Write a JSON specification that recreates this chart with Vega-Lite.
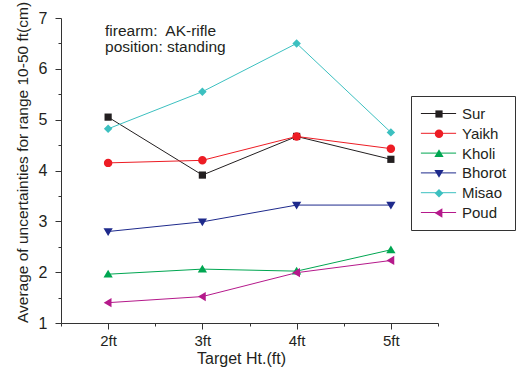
{
  "$schema": "https://vega.github.io/schema/vega-lite/v6.json",
  "width": 377,
  "height": 305,
  "autosize": {"type": "none"},
  "padding": {"left": 61, "top": 18, "right": 82, "bottom": 46},
  "layer": [
    {
      "data": {
        "values": [
          {"ht": 2, "series": "Sur", "v": 5.05},
          {"ht": 3, "series": "Sur", "v": 3.91},
          {"ht": 4, "series": "Sur", "v": 4.67},
          {"ht": 5, "series": "Sur", "v": 4.22},
          {"ht": 2, "series": "Yaikh", "v": 4.15},
          {"ht": 3, "series": "Yaikh", "v": 4.2},
          {"ht": 4, "series": "Yaikh", "v": 4.67},
          {"ht": 5, "series": "Yaikh", "v": 4.43},
          {"ht": 2, "series": "Kholi", "v": 1.96},
          {"ht": 3, "series": "Kholi", "v": 2.06},
          {"ht": 4, "series": "Kholi", "v": 2.02},
          {"ht": 5, "series": "Kholi", "v": 2.44},
          {"ht": 2, "series": "Bhorot", "v": 2.8},
          {"ht": 3, "series": "Bhorot", "v": 2.99},
          {"ht": 4, "series": "Bhorot", "v": 3.32},
          {"ht": 5, "series": "Bhorot", "v": 3.32},
          {"ht": 2, "series": "Misao", "v": 4.82},
          {"ht": 3, "series": "Misao", "v": 5.55},
          {"ht": 4, "series": "Misao", "v": 6.5},
          {"ht": 5, "series": "Misao", "v": 4.75},
          {"ht": 2, "series": "Poud", "v": 1.4},
          {"ht": 3, "series": "Poud", "v": 1.52},
          {"ht": 4, "series": "Poud", "v": 1.99},
          {"ht": 5, "series": "Poud", "v": 2.23}
        ]
      },
      "encoding": {
        "x": {
          "field": "ht",
          "type": "quantitative",
          "scale": {"domain": [1.5, 5.5], "nice": false, "zero": false},
          "axis": {
            "title": "Target Ht.(ft)",
            "titleFontSize": 16,
            "titleFontWeight": "normal",
            "titleColor": "#231f20",
            "titlePadding": 2,
            "titleX": 180,
            "values": [1.5, 2, 2.5, 3, 3.5, 4, 4.5, 5, 5.5],
            "labelExpr": "datum.value % 1 === 0 ? datum.value + 'ft' : ''",
            "labelFontSize": 15,
            "labelColor": "#231f20",
            "labelPadding": 4,
            "labelFlush": false,
            "labelOverlap": false,
            "tickSize": {"condition": {"test": "datum.value % 1 === 0", "value": 6}, "value": 3},
            "tickColor": "#333333",
            "domainColor": "#333333",
            "grid": false
          }
        },
        "y": {
          "field": "v",
          "type": "quantitative",
          "scale": {"domain": [1, 7], "nice": false, "zero": false},
          "axis": {
            "title": "Average of uncertainties for range 10-50 ft(cm)",
            "titleFontSize": 15.5,
            "titleFontWeight": "normal",
            "titleColor": "#231f20",
            "titlePadding": 8,
            "titleY": 144,
            "values": [1, 1.5, 2, 2.5, 3, 3.5, 4, 4.5, 5, 5.5, 6, 6.5, 7],
            "labelExpr": "datum.value % 1 === 0 ? datum.value : ''",
            "labelFontSize": 16,
            "labelColor": "#231f20",
            "labelPadding": 8,
            "labelFlush": false,
            "labelOverlap": false,
            "tickSize": {"condition": {"test": "datum.value % 1 === 0", "value": 6}, "value": 3},
            "tickColor": "#333333",
            "domainColor": "#333333",
            "grid": false
          }
        }
      },
      "layer": [
        {
          "mark": {"type": "line", "strokeWidth": 1},
          "encoding": {
            "stroke": {
              "field": "series",
              "type": "nominal",
              "sort": ["Sur", "Yaikh", "Kholi", "Bhorot", "Misao", "Poud"],
              "scale": {
                "range": ["#231f20", "#ed1c24", "#00a651", "#1e2a8c", "#3cc0c0", "#b5198b"]
              },
              "legend": {
                "title": null,
                "orient": "none",
                "legendX": 350,
                "legendY": 78,
                "padding": 9,
                "strokeColor": "#333333",
                "symbolType": "M-2.2,0L2.2,0",
                "symbolSize": 256,
                "symbolOffset": 10,
                "symbolStrokeWidth": 1,
                "labelOffset": 14,
                "labelFontSize": 15,
                "labelOpacity": 0,
                "rowPadding": 2.8
              }
            }
          }
        },
        {
          "mark": {"type": "point", "filled": true, "opacity": 1, "size": 256},
          "encoding": {
            "fill": {
              "field": "series",
              "type": "nominal",
              "scale": {
                "domain": ["Sur", "Yaikh", "Kholi", "Bhorot", "Misao", "Poud"],
                "range": ["#231f20", "#ed1c24", "#00a651", "#1e2a8c", "#3cc0c0", "#b5198b"]
              },
              "legend": {
                "title": null,
                "orient": "none",
                "legendX": 350,
                "legendY": 78,
                "padding": 9,
                "symbolSize": 256,
                "symbolOffset": 10,
                "labelOffset": 14,
                "labelFontSize": 15,
                "labelColor": "#231f20",
                "rowPadding": 2.8
              }
            },
            "shape": {
              "field": "series",
              "type": "nominal",
              "scale": {
                "domain": ["Sur", "Yaikh", "Kholi", "Bhorot", "Misao", "Poud"],
                "range": [
                  "M-0.45,-0.45L0.45,-0.45L0.45,0.45L-0.45,0.45Z",
                  "M0.53,0A0.53,0.53,0,1,1,-0.53,0A0.53,0.53,0,1,1,0.53,0Z",
                  "M0,-0.55L0.58,0.42L-0.58,0.42Z",
                  "M0,0.55L0.58,-0.42L-0.58,-0.42Z",
                  "M0,-0.53L0.53,0L0,0.53L-0.53,0Z",
                  "M-0.55,0L0.42,-0.58L0.42,0.58Z"
                ]
              },
              "legend": {
                "title": null,
                "orient": "none",
                "legendX": 350,
                "legendY": 78,
                "padding": 9,
                "symbolSize": 256,
                "symbolOffset": 10,
                "labelOffset": 14,
                "labelFontSize": 15,
                "labelColor": "#231f20",
                "rowPadding": 2.8
              }
            }
          }
        }
      ]
    },
    {
      "data": {"values": [{"line": 1, "note": "firearm:\u00a0 AK-rifle"}, {"line": 2, "note": "position: standing"}]},
      "mark": {
        "type": "text",
        "align": "left",
        "baseline": "top",
        "fontSize": 15.5,
        "color": "#231f20"
      },
      "encoding": {
        "x": {"datum": 1.967, "type": "quantitative"},
        "y": {"field": "line", "type": "quantitative", "scale": {"domain": [0.6, 19.6], "range": [0, 305]}, "axis": null},
        "text": {"field": "note", "type": "nominal"}
      }
    }
  ],
  "resolve": {"scale": {"y": "independent"}},
  "config": {
    "font": "Liberation Sans",
    "view": {"stroke": null}
  }
}
